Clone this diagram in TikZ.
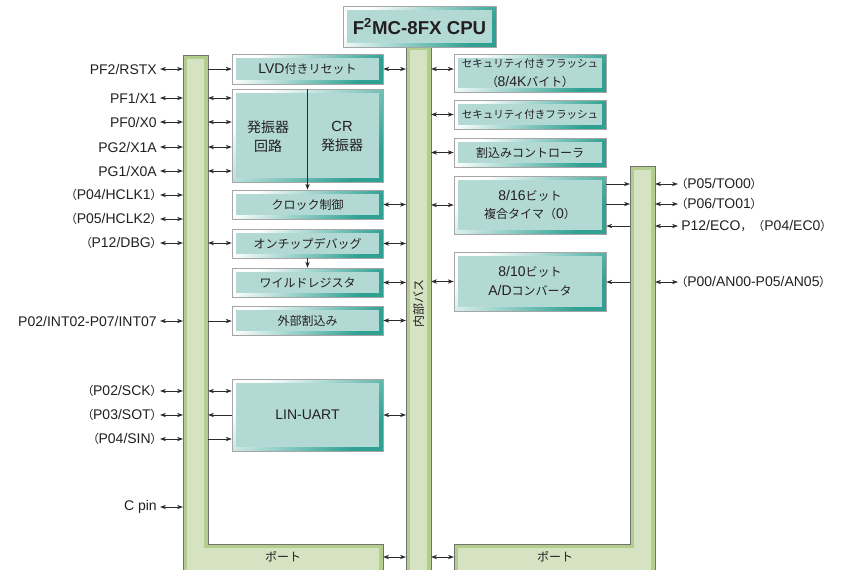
\documentclass[tikz,border=0pt]{standalone}
\usepackage{fontspec}
\setmainfont{Liberation Sans}
\newfontfamily\jpf{Noto Sans CJK JP}
\newfontfamily\jpp{Noto Sans CJK JP}[RawFeature=+palt]
\usetikzlibrary{arrows.meta,calc}
\definecolor{tealin}{HTML}{B3D9D5}
\definecolor{tealdk}{HTML}{2FA193}
\definecolor{barin}{HTML}{D5E3C3}
\definecolor{barbd}{HTML}{B3CD8C}
\definecolor{txt}{HTML}{231F20}
\definecolor{lnc}{HTML}{2B2B2B}
\newcommand\JA[1]{{\jpf\fontsize{9}{14}\selectfont #1}}
\newcommand\JB[1]{{\jpf\fontsize{7.9}{13}\selectfont #1}}
\newcommand\JC[1]{{\jpf\fontsize{10.5}{14.5}\selectfont #1}}
\newcommand\JL{{\jpp\fontsize{9}{14}\selectfont （}}
\newcommand\JR{{\jpp\fontsize{9}{14}\selectfont ）}}
\tikzset{
  blk/.style={draw=black!35, line width=0.4pt, top color=white, bottom color=tealdk,
    shading angle=45, inner sep=0pt, align=center,
    path picture={\fill[tealin] ([shift={(3pt,-3pt)}]path picture bounding box.north west)
      rectangle ([shift={(-3pt,3pt)}]path picture bounding box.south east);}},
  sz/.style 2 args={minimum width=#1*0.75pt, minimum height=#2*0.75pt},
  lbl/.style={inner xsep=2.25pt, inner ysep=0pt},
  tip/.tip={Stealth[length=4.4pt,width=3.2pt,inset=1.2pt]},
  arr/.style={draw=lnc, line width=0.75pt, -tip},
  dbl/.style={draw=lnc, line width=0.75pt, tip-tip},
  barout/.style={fill=barbd, draw=black!55, line width=0.5pt},
  barfill/.style={fill=barin}
}
\begin{document}
\begin{tikzpicture}[x=0.75pt, y=-0.75pt, font=\fontsize{10.5}{14}\selectfont, text=txt]
\useasboundingbox (0,0) rectangle (847,569);

% ---- bars ----
\filldraw[barout] (183,55) -- (208,55) -- (208,544) -- (383,544) -- (383,572) -- (183,572) -- cycle;
\fill[barfill] (187,59) -- (204,59) -- (204,548) -- (379,548) -- (379,572) -- (187,572) -- cycle;
\filldraw[barout] (406,46) rectangle (431,572);
\fill[barfill] (410,50) rectangle (427,572);
\filldraw[barout] (454,544) -- (630,544) -- (630,166) -- (655,166) -- (655,572) -- (454,572) -- cycle;
\fill[barfill] (458,548) -- (634,548) -- (634,170) -- (651,170) -- (651,572) -- (458,572) -- cycle;

\coordinate (lW) at (183,0);
\coordinate (lE) at (208,0);
\coordinate (bW) at (406,0);
\coordinate (bE) at (431,0);
\coordinate (rW) at (630,0);
\coordinate (rE) at (655,0);
\coordinate (lpE) at (383,557);
\coordinate (rpW) at (454,557);

\node (lpt) at (283,557) {\JA{ポート}};
\node (rpt) at (555,557) {\JA{ポート}};
\node[rotate=90] (buslbl) at (418.5,303) {\JA{内部バス}};

% ---- CPU ----
\node[blk, sz={153}{41}] (cpu) at (419.5,26.5) {\bfseries\fontsize{14}{16}\selectfont F\textsuperscript{2}MC-8FX CPU};

% ---- left blocks ----
\node[blk, sz={151}{30}] (lvd) at (307.5,69) {LVD\JA{付きリセット}};
\node[blk, sz={151}{93}] (osc) at (307.5,135.5) {};
\node (oscL) at (268,136.5) [align=center, font=\fontsize{11}{14.5}\selectfont] {\JC{発振器}\\\JC{回路}};
\node (oscR) at (342,136.5) [align=center, font=\fontsize{11}{14.5}\selectfont] {CR\\\JC{発振器}};
\node[blk, sz={151}{29}] (clk) at (307.5,204.5) {\JA{クロック制御}};
\node[blk, sz={151}{29}] (dbg) at (307.5,243.5) {\JA{オンチップデバッグ}};
\node[blk, sz={151}{29}] (wild) at (307.5,282.5) {\JA{ワイルドレジスタ}};
\node[blk, sz={151}{29}] (extint) at (307.5,320.5) {\JA{外部割込み}};
\node[blk, sz={151}{72}] (lin) at (307.5,415) {LIN-UART};

% ---- right blocks ----
\node[blk, sz={152}{38}] (fl1) at (530,73) {\JB{セキュリティ付きフラッシュ}\\\JL 8/4K\JA{バイト}\JR};
\node[blk, sz={152}{29}] (fl2) at (530,114.5) {\JB{セキュリティ付きフラッシュ}};
\node[blk, sz={152}{29}] (intc) at (530,152.5) {\JA{割込みコントローラ}};
\node[blk, sz={152}{58}] (timer) at (530,205) {8/16\JA{ビット}\\\JA{複合タイマ（}0\JA{）}};
\node[blk, sz={152}{59}] (adc) at (530,281.5) {8/10\JA{ビット}\\A/D\JA{コンバータ}};

% ---- left pin labels ----
\node[lbl, anchor=east] (pf2) at (160,69) {PF2/RSTX};
\node[lbl, anchor=east] (pf1) at (160,98) {PF1/X1};
\node[lbl, anchor=east] (pf0) at (160,122) {PF0/X0};
\node[lbl, anchor=east] (pg2) at (160,147) {PG2/X1A};
\node[lbl, anchor=east] (pg1) at (160,171) {PG1/X0A};
\node[lbl, anchor=east] (hck1) at (160,195) {\JL P04/HCLK1\JR};
\node[lbl, anchor=east] (hck2) at (160,219) {\JL P05/HCLK2\JR};
\node[lbl, anchor=east] (pdbg) at (160,243) {\JL P12/DBG\JR};
\node[lbl, anchor=east] (pint) at (160,321) {P02/INT02-P07/INT07};
\node[lbl, anchor=east] (sck) at (160,391) {\JL P02/SCK\JR};
\node[lbl, anchor=east] (sot) at (160,415) {\JL P03/SOT\JR};
\node[lbl, anchor=east] (sin) at (160,439) {\JL P04/SIN\JR};
\node[lbl, anchor=east] (cpin) at (160,507) {C pin};

\foreach \n in {pf2,pf1,pf0,pg2,pg1,hck1,hck2,pdbg,pint,sck,sot,sin,cpin}
  \draw[dbl] (\n.east) -- (\n.east -| lW);

% ---- right pin labels ----
\node[lbl, anchor=west] (to00) at (678,184) {\JL P05/TO00\JR};
\node[lbl, anchor=west] (to01) at (678,204) {\JL P06/TO01\JR};
\node[lbl, anchor=west] (eco) at (678,226) {P12/ECO\JA{，（}P04/EC0\JR};
\node[lbl, anchor=west] (an) at (678,282) {\JL P00/AN00-P05/AN05\JR};

\foreach \n in {to00,to01,eco,an}
  \draw[dbl] (\n.west -| rE) -- (\n.west);

% ---- left bar to blocks ----
\draw[arr] (pf2.east -| lE) -- (lvd.west);
\foreach \n in {pf1,pf0,pg2,pg1}
  \draw[dbl] (\n.east -| lE) -- (\n.east -| osc.west);
\draw[dbl] (pdbg.east -| lE) -- (pdbg.east -| dbg.west);
\draw[arr] (pint.east -| lE) -- (pint.east -| extint.west);
\draw[dbl] (sck.east -| lE) -- (sck.east -| lin.west);
\draw[arr] (lin.west) -- (lin.west -| lE);
\draw[arr] (sin.east -| lE) -- (sin.east -| lin.west);

% ---- internal arrows ----
\draw[arr] (osc.north) -- (clk.north);
\draw[arr] (dbg.south) -- (wild.north);

% ---- blocks to bus ----
\foreach \n in {lvd,clk,dbg,wild,extint,lin}
  \draw[dbl] (\n.east) -- (\n.east -| bW);
\draw[dbl] (lpE) -- (lpE -| bW);
\draw[dbl] (lpE -| bE) -- (rpW);
\draw[dbl] (lvd.east -| bE) -- (lvd.east -| fl1.west);
\foreach \n in {fl2,intc,timer,adc}
  \draw[dbl] (\n.west -| bE) -- (\n.west);

% ---- right blocks to right bar ----
\draw[arr] (to00.west -| timer.east) -- (to00.west -| rW);
\draw[arr] (to01.west -| timer.east) -- (to01.west -| rW);
\draw[arr] (eco.west -| rW) -- (eco.west -| timer.east);
\draw[arr] (an.west -| rW) -- (an.west -| adc.east);
\end{tikzpicture}
\end{document}
